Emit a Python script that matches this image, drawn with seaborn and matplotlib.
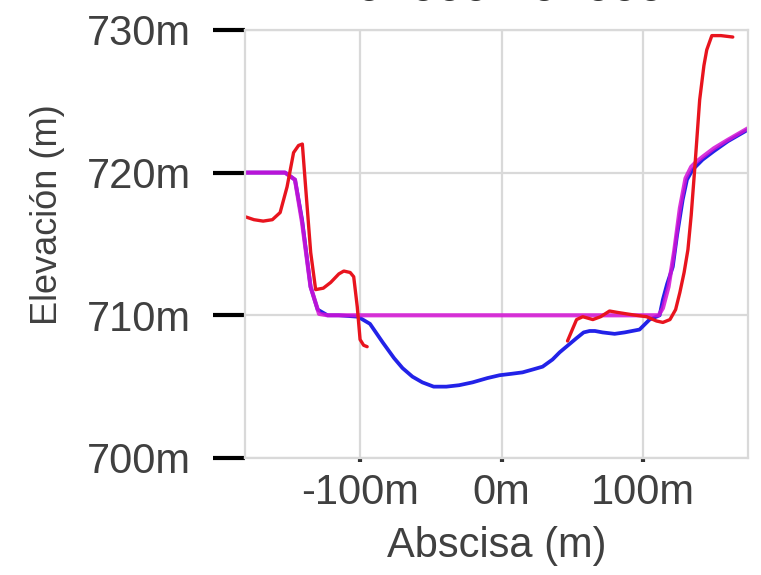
import numpy as np
import pandas as pd
import matplotlib
matplotlib.use("Agg")
import matplotlib.pyplot as plt
from matplotlib.ticker import FuncFormatter
import seaborn as sns

# Terreno natural (rojo)
red_x1 = [-181, -175, -168.5, -162, -156.5, -151.6, -147, -143.5, -140.8, -138.5, -134.9, -131.4,
          -126, -120.8, -115, -111.5, -107, -104.5, -102, -100, -97.5, -95]
red_y1 = [716.9, 716.7, 716.6, 716.7, 717.2, 719.0, 721.4, 721.9, 722.0, 719.0, 714.4, 711.8,
          711.9, 712.3, 712.9, 713.1, 713.0, 712.7, 710.6, 708.3, 707.9, 707.8]
red_x2 = [46.6, 50, 53, 57.4, 64.5, 70, 76.3, 82, 88.4, 95, 102.5, 109.5, 114, 119, 123, 126,
          129, 131.7, 134, 136.6, 140, 143, 145, 148.6, 155, 163.4]
red_y2 = [708.2, 709.0, 709.7, 709.9, 709.7, 709.9, 710.3, 710.2, 710.1, 710.0, 709.9, 709.6,
          709.5, 709.7, 710.4, 711.6, 713.0, 714.6, 717.0, 720.4, 725.1, 727.5, 728.6, 729.6,
          729.6, 729.5]

# Terreno (azul)
blue_x = [-181, -165, -153, -146, -141, -135, -130, -123, -115, -101.5, -93, -84, -76, -70, -63,
          -56, -48, -39, -30, -20.5, -10, -1.4, 7, 14.8, 22, 29, 36, 41, 47, 53, 58, 62.2, 66,
          71.4, 79.9, 87, 97.5, 104.6, 111.7, 114, 117, 121, 124, 128, 131, 135, 142, 150, 160, 174]
blue_y = [720.0, 720.0, 720.0, 719.5, 716.7, 712.0, 710.4, 710.0, 710.0, 709.9, 709.4, 708.1,
          707.0, 706.3, 705.7, 705.3, 705.0, 705.0, 705.1, 705.3, 705.6, 705.8, 705.9, 706.0,
          706.2, 706.4, 706.9, 707.4, 707.9, 708.4, 708.8, 708.9, 708.9, 708.8, 708.7, 708.8,
          709.0, 709.7, 710.0, 711.1, 712.2, 713.4, 715.6, 718.1, 719.5, 720.2, 720.9, 721.5,
          722.2, 723.0]

# Rasante de proyecto (magenta)
mag_x = [-181, -153, -146, -141, -135, -129, -123, -50, 0, 50, 100, 111, 114, 118, 122, 126,
         130, 134, 137, 142, 150, 160, 174]
mag_y = [720.0, 720.0, 719.5, 716.5, 712.0, 710.1, 710.0, 710.0, 710.0, 710.0, 710.0, 710.0,
         710.5, 712.0, 714.5, 717.5, 719.6, 720.4, 720.7, 721.1, 721.7, 722.3, 723.1]

x_ticks = [-100, 0, 100]
y_ticks = [700, 710, 720, 730]

sns.set_theme(style="whitegrid")
plt.rcParams["font.family"] = ["Liberation Sans", "DejaVu Sans"]

fig = plt.figure(figsize=(7.61, 5.75), dpi=100)
ax = fig.add_axes([0.322, 0.2035, 0.661, 0.7445])

blue_df = pd.DataFrame({"x": blue_x, "y": blue_y})
mag_df = pd.DataFrame({"x": mag_x, "y": mag_y})
red1_df = pd.DataFrame({"x": red_x1, "y": red_y1})
red2_df = pd.DataFrame({"x": red_x2, "y": red_y2})

sns.lineplot(data=blue_df, x="x", y="y", sort=False, color="#2222e8", lw=2.7, ax=ax)
sns.lineplot(data=mag_df, x="x", y="y", sort=False, color="#d412d4", lw=3.0, alpha=0.85, ax=ax)
sns.lineplot(data=red1_df, x="x", y="y", sort=False, color="#e8141e", lw=2.4, ax=ax)
sns.lineplot(data=red2_df, x="x", y="y", sort=False, color="#e8141e", lw=2.4, ax=ax)

ax.set_xlim(-181.3, 174.2)
ax.set_ylim(700, 730)
ax.set_xticks(x_ticks)
ax.set_yticks(y_ticks)
fmt = FuncFormatter(lambda v, p: f"{v:.0f}m")
ax.xaxis.set_major_formatter(fmt)
ax.yaxis.set_major_formatter(fmt)

ax.grid(True, color="#d9d9d9", lw=1.6)
for s in ax.spines.values():
    s.set_color("#d9d9d9")
    s.set_linewidth(1.6)

ax.tick_params(axis="y", length=23, width=3, color="black", pad=16, labelsize=30,
               labelcolor="#404040", left=True, direction="out")
ax.tick_params(axis="x", length=3, width=3, color="#333333", pad=8, labelsize=30,
               labelcolor="#404040", bottom=True, direction="out")

ax.set_xlabel("Abscisa (m)", fontsize=30, color="#404040", labelpad=9)
ax.set_ylabel("")
fig.text(48 / 761, 1 - 215 / 575, "Elevación (m)", rotation=90, ha="center", va="center",
         fontsize=26, color="#404040")

# título recortado en el borde superior
fig.text(0.67, 0.9985, "0+000 - 0+000", ha="center", va="baseline", fontsize=34, color="#333333")

fig.savefig("out.png", dpi=100)
